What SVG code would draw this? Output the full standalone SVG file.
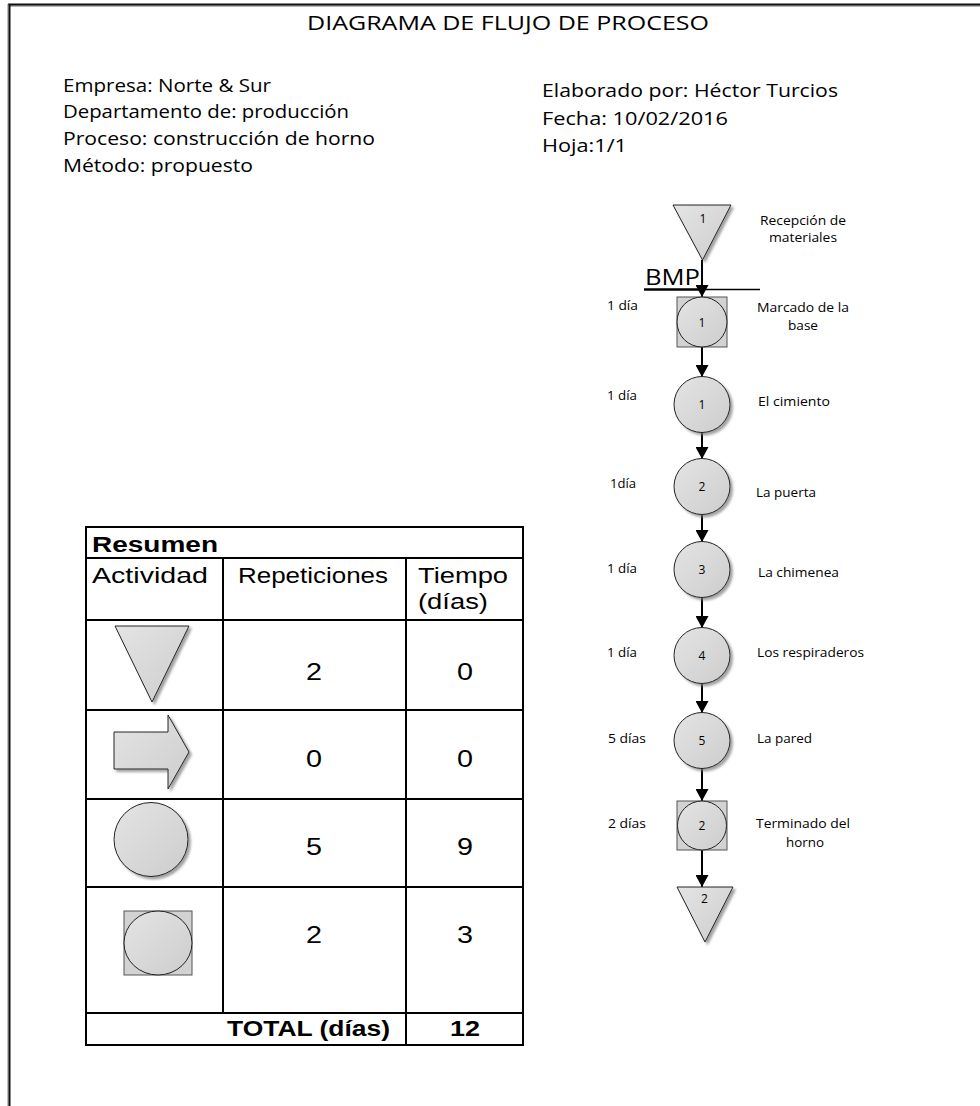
<svg xmlns="http://www.w3.org/2000/svg" width="980" height="1106" viewBox="0 0 980 1106">
<defs>
<style>
.hdr{font-family:"Open Sans","Noto Sans",sans-serif;font-size:18px;fill:#000}
.ttl{font-family:"Open Sans","Noto Sans",sans-serif;font-size:20px;fill:#000}
.lbl{font-family:"Open Sans","Noto Sans",sans-serif;font-size:12px;fill:#000}
.num{font-family:"Open Sans","Noto Sans",sans-serif;font-size:12px;fill:#000;text-anchor:middle}
.tb{font-family:"Liberation Sans",Arial,sans-serif;font-size:22px;fill:#000}
.tbb{font-family:"Liberation Sans",Arial,sans-serif;font-size:22px;font-weight:bold;fill:#000}
.tn{font-family:"Liberation Sans",Arial,sans-serif;font-size:23px;fill:#000;text-anchor:middle}
.shape{fill:url(#g);stroke:#222;stroke-width:1}
.sq{fill:#d2d2d2;stroke:#555;stroke-width:1}
.grid{stroke:#000;stroke-width:2;fill:none}
.conn{stroke:#000;stroke-width:2;fill:none;marker-end:url(#arr)}
</style>
<linearGradient id="g" x1="0" y1="0" x2="1" y2="1">
<stop offset="0" stop-color="#e4e4e4"/>
<stop offset="1" stop-color="#cdcdcd"/>
</linearGradient>
<filter id="sh" x="-20%" y="-20%" width="150%" height="150%">
<feDropShadow dx="2.5" dy="2.5" stdDeviation="1" flood-color="#7a7a7a" flood-opacity="0.7"/>
</filter>
<marker id="arr" markerUnits="userSpaceOnUse" markerWidth="13" markerHeight="13" refX="12" refY="6.5" orient="auto">
<path d="M0,0 L12,6.5 L0,13 z" fill="#000"/>
</marker>
</defs>
<rect x="0" y="0" width="980" height="1106" fill="#fff"/>

<g id="border">
<line x1="9" y1="6" x2="980" y2="6" stroke="#9a9a9a" stroke-width="1.5"/>
<line x1="8" y1="4.5" x2="980" y2="4.5" stroke="#111" stroke-width="2"/>
<line x1="8" y1="4" x2="8" y2="1106" stroke="#aaa" stroke-width="1.5"/>
<line x1="9.5" y1="4" x2="9.5" y2="1106" stroke="#111" stroke-width="2"/>
</g>

<g id="header">
<text class="ttl" x="307" y="30" textLength="402" lengthAdjust="spacingAndGlyphs">DIAGRAMA DE FLUJO DE PROCESO</text>
<text class="hdr" x="63" y="92" textLength="208" lengthAdjust="spacingAndGlyphs">Empresa: Norte &amp; Sur</text>
<text class="hdr" x="63" y="118" textLength="286" lengthAdjust="spacingAndGlyphs">Departamento de: producción</text>
<text class="hdr" x="63" y="145" textLength="312" lengthAdjust="spacingAndGlyphs">Proceso: construcción de horno</text>
<text class="hdr" x="63" y="172" textLength="190" lengthAdjust="spacingAndGlyphs">Método: propuesto</text>
<text class="hdr" x="542" y="97" textLength="296" lengthAdjust="spacingAndGlyphs">Elaborado por: Héctor Turcios</text>
<text class="hdr" x="542" y="125" textLength="186" lengthAdjust="spacingAndGlyphs">Fecha: 10/02/2016</text>
<text class="hdr" x="542" y="152" textLength="85" lengthAdjust="spacingAndGlyphs">Hoja:1/1</text>
</g>

<g id="connectors">
<line class="conn" x1="702" y1="260" x2="702" y2="297"/>
<line class="conn" x1="702" y1="347" x2="702" y2="377"/>
<line class="conn" x1="702" y1="432" x2="702" y2="459"/>
<line class="conn" x1="702" y1="514" x2="702" y2="542"/>
<line class="conn" x1="702" y1="597" x2="702" y2="628"/>
<line class="conn" x1="702" y1="683" x2="702" y2="713"/>
<line class="conn" x1="702" y1="768" x2="702" y2="801"/>
<line class="conn" x1="702" y1="850" x2="702" y2="887"/>
</g>

<g id="bmp">
<text x="645" y="285" font-family="Open Sans, Noto Sans, sans-serif" font-size="21" textLength="55" lengthAdjust="spacingAndGlyphs">BMP</text>
<line x1="644" y1="289.5" x2="703" y2="289.5" stroke="#000" stroke-width="2.5"/>
<line x1="703" y1="289.5" x2="760" y2="289.5" stroke="#000" stroke-width="1.5"/>
</g>

<g id="n-recepcion">
<polygon class="shape" filter="url(#sh)" points="673,205 731,205 702.5,260"/>
<text class="num" x="703" y="223">1</text>
<text class="lbl" x="760" y="225" textLength="86" lengthAdjust="spacingAndGlyphs">Recepción de</text>
<text class="lbl" x="769" y="242" textLength="68" lengthAdjust="spacingAndGlyphs">materiales</text>
</g>

<g id="n-marcado">
<rect class="sq" x="677" y="297" width="50" height="50"/>
<circle cx="702" cy="322" r="25" fill="url(#g)" stroke="#222" stroke-width="1"/>
<text class="num" x="702" y="326.5">1</text>
<text class="lbl" x="607" y="310" textLength="31" lengthAdjust="spacingAndGlyphs">1 día</text>
<text class="lbl" x="757" y="312" textLength="92" lengthAdjust="spacingAndGlyphs">Marcado de la</text>
<text class="lbl" x="788" y="330" textLength="30" lengthAdjust="spacingAndGlyphs">base</text>
</g>

<g id="n-cimiento">
<circle class="shape" filter="url(#sh)" cx="702" cy="404.5" r="28"/>
<text class="num" x="702" y="409">1</text>
<text class="lbl" x="607" y="400" textLength="30" lengthAdjust="spacingAndGlyphs">1 día</text>
<text class="lbl" x="758" y="406" textLength="72" lengthAdjust="spacingAndGlyphs">El cimiento</text>
</g>

<g id="n-puerta">
<circle class="shape" filter="url(#sh)" cx="702" cy="486.5" r="28"/>
<text class="num" x="702" y="491">2</text>
<text class="lbl" x="610" y="488" textLength="26" lengthAdjust="spacingAndGlyphs">1día</text>
<text class="lbl" x="756" y="497" textLength="60" lengthAdjust="spacingAndGlyphs">La puerta</text>
</g>

<g id="n-chimenea">
<circle class="shape" filter="url(#sh)" cx="702" cy="569.5" r="28"/>
<text class="num" x="702" y="574">3</text>
<text class="lbl" x="607" y="573" textLength="30" lengthAdjust="spacingAndGlyphs">1 día</text>
<text class="lbl" x="758" y="577" textLength="81" lengthAdjust="spacingAndGlyphs">La chimenea</text>
</g>

<g id="n-respiraderos">
<circle class="shape" filter="url(#sh)" cx="702" cy="655.5" r="28"/>
<text class="num" x="702" y="660">4</text>
<text class="lbl" x="607" y="657" textLength="30" lengthAdjust="spacingAndGlyphs">1 día</text>
<text class="lbl" x="757" y="657" textLength="107" lengthAdjust="spacingAndGlyphs">Los respiraderos</text>
</g>

<g id="n-pared">
<circle class="shape" filter="url(#sh)" cx="702" cy="740.5" r="28"/>
<text class="num" x="702" y="745">5</text>
<text class="lbl" x="608" y="743" textLength="38" lengthAdjust="spacingAndGlyphs">5 días</text>
<text class="lbl" x="757" y="743" textLength="55" lengthAdjust="spacingAndGlyphs">La pared</text>
</g>

<g id="n-terminado">
<rect class="sq" x="677" y="801" width="50" height="49"/>
<circle cx="702" cy="825.5" r="24.5" fill="url(#g)" stroke="#222" stroke-width="1"/>
<text class="num" x="702" y="830">2</text>
<text class="lbl" x="608" y="828" textLength="38" lengthAdjust="spacingAndGlyphs">2 días</text>
<text class="lbl" x="756" y="828" textLength="94" lengthAdjust="spacingAndGlyphs">Terminado del</text>
<text class="lbl" x="786" y="847" textLength="38" lengthAdjust="spacingAndGlyphs">horno</text>
</g>

<g id="n-almacen">
<polygon class="shape" filter="url(#sh)" points="677,887 733,887 705,942"/>
<text class="num" x="704.5" y="903">2</text>
</g>

<g id="resumen">
<rect class="grid" x="86" y="527" width="437" height="518"/>
<line class="grid" x1="86" y1="558" x2="523" y2="558"/>
<line class="grid" x1="86" y1="620" x2="523" y2="620"/>
<line class="grid" x1="86" y1="710" x2="523" y2="710"/>
<line class="grid" x1="86" y1="799" x2="523" y2="799"/>
<line class="grid" x1="86" y1="887" x2="523" y2="887"/>
<line class="grid" x1="86" y1="1013" x2="523" y2="1013"/>
<line class="grid" x1="223" y1="558" x2="223" y2="1013"/>
<line class="grid" x1="406" y1="558" x2="406" y2="1045"/>

<text class="tbb" x="92" y="552" textLength="126" lengthAdjust="spacingAndGlyphs">Resumen</text>
<text class="tb" x="92" y="583" textLength="116" lengthAdjust="spacingAndGlyphs">Actividad</text>
<text class="tb" x="238" y="583" textLength="150" lengthAdjust="spacingAndGlyphs">Repeticiones</text>
<text class="tb" x="418" y="583" textLength="90" lengthAdjust="spacingAndGlyphs">Tiempo</text>
<text class="tb" x="418" y="609" textLength="70" lengthAdjust="spacingAndGlyphs">(días)</text>

<polygon class="shape" filter="url(#sh)" points="115,626 189,626 152,702"/>
<text class="tn" x="314" y="680" textLength="16" lengthAdjust="spacingAndGlyphs">2</text>
<text class="tn" x="465" y="680" textLength="16" lengthAdjust="spacingAndGlyphs">0</text>

<polygon class="shape" filter="url(#sh)" points="114,732 168,732 168,715 189,752 168,789 168,769 114,769"/>
<text class="tn" x="314" y="767" textLength="16" lengthAdjust="spacingAndGlyphs">0</text>
<text class="tn" x="465" y="767" textLength="16" lengthAdjust="spacingAndGlyphs">0</text>

<circle class="shape" filter="url(#sh)" cx="151" cy="839.5" r="37"/>
<text class="tn" x="314" y="855" textLength="16" lengthAdjust="spacingAndGlyphs">5</text>
<text class="tn" x="465" y="855" textLength="16" lengthAdjust="spacingAndGlyphs">9</text>

<rect class="sq" x="124" y="911" width="68" height="64"/>
<ellipse cx="158" cy="943" rx="34" ry="32" fill="url(#g)" stroke="#222" stroke-width="1"/>
<text class="tn" x="314" y="943" textLength="16" lengthAdjust="spacingAndGlyphs">2</text>
<text class="tn" x="465" y="943" textLength="16" lengthAdjust="spacingAndGlyphs">3</text>

<text class="tbb" x="227" y="1036" textLength="163" lengthAdjust="spacingAndGlyphs">TOTAL (días)</text>
<text class="tbb" x="465" y="1036" text-anchor="middle" textLength="30" lengthAdjust="spacingAndGlyphs">12</text>
</g>
</svg>
